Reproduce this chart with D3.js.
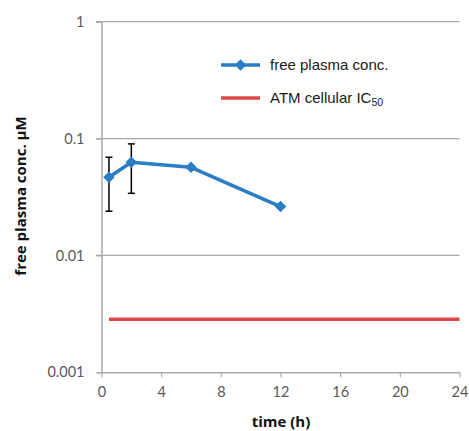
<!DOCTYPE html>
<html><head><meta charset="utf-8">
<script src="https://cdn.jsdelivr.net/npm/d3@7"></script>
<style>body{margin:0;background:#fff}svg{display:block}</style>
</head><body><div id="c"></div>
<script>
const times = [0.5, 2, 6, 12];
const conc = [0.0467, 0.0627, 0.0568, 0.0262];
const errLow = [0.0239, 0.034, null, null];
const errHigh = [0.0692, 0.090, null, null];
const ic50Times = [0.5, 24];
const ic50Value = 0.00285;
const xTicks = [0, 4, 8, 12, 16, 20, 24];
const yTicks = [0.001, 0.01, 0.1, 1];
const yTickLabels = ["0.001", "0.01", "0.1", "1"];
const legendLabels = ["free plasma conc.", "ATM cellular IC"];

const W = 469, H = 431;
const svg = d3.select("#c").append("svg").attr("width", W).attr("height", H);
const x = d3.scaleLinear().domain([0, 24]).range([101.5, 459.5]);
const y = d3.scaleLog().domain([0.001, 1]).range([372.3, 21.7]);
const blue = "#2a7dc4", red = "#dc4a47", grid = "#a9a9a9";

// gridlines
svg.append("g").selectAll("line").data(yTicks.slice(1)).join("line")
  .attr("x1", 96).attr("x2", x(24)).attr("y1", d => y(d)).attr("y2", d => y(d))
  .attr("stroke", grid).attr("stroke-width", 1.2);

// y axis
const yAxis = d3.axisLeft(y).tickValues(yTicks).tickFormat((d, i) => yTickLabels[i]).tickSize(5).tickPadding(12);
const gy = svg.append("g").attr("transform", `translate(${x(0)},0)`).call(yAxis);
gy.select(".domain").attr("stroke", grid).attr("stroke-width", 1.5);
gy.selectAll(".tick line").attr("stroke", grid).attr("stroke-width", 1.2);
gy.selectAll("text").attr("font-family", "Lato, sans-serif").attr("font-size", 14.5).attr("fill", "#595959");

// x axis
const xAxis = d3.axisBottom(x).tickValues(xTicks).tickSize(5).tickPadding(9).tickSizeOuter(0);
const gx = svg.append("g").attr("transform", `translate(0,${y(0.001)})`).call(xAxis);
gx.select(".domain").attr("stroke", grid).attr("stroke-width", 1.5);
gx.selectAll(".tick line").attr("stroke", grid).attr("stroke-width", 1.2);
gx.selectAll("text").attr("font-family", "Lato, sans-serif").attr("font-size", 14.5).attr("fill", "#595959");

// axis titles
svg.append("text").attr("x", 281).attr("y", 426.5).attr("text-anchor", "middle")
  .attr("font-family", "'Open Sans', sans-serif").attr("font-weight", "bold").attr("font-size", 15).attr("fill", "#111").text("time (h)");
svg.append("text").attr("transform", "translate(26,196) rotate(-90)").attr("text-anchor", "middle")
  .attr("font-family", "'Open Sans', sans-serif").attr("font-weight", "bold").attr("font-size", 15).attr("fill", "#111").text("free plasma conc. µM");

// IC50 line
svg.append("line").attr("x1", x(ic50Times[0])).attr("x2", x(ic50Times[1]))
  .attr("y1", y(ic50Value)).attr("y2", y(ic50Value)).attr("stroke", red).attr("stroke-width", 3.5);

// error bars
const eb = svg.append("g").attr("stroke", "#000").attr("stroke-width", 1.5);
times.forEach((t, i) => {
  if (errLow[i] == null) return;
  eb.append("line").attr("x1", x(t)).attr("x2", x(t)).attr("y1", y(errLow[i])).attr("y2", y(errHigh[i]));
  eb.append("line").attr("x1", x(t) - 3.5).attr("x2", x(t) + 3.5).attr("y1", y(errLow[i])).attr("y2", y(errLow[i]));
  eb.append("line").attr("x1", x(t) - 3.5).attr("x2", x(t) + 3.5).attr("y1", y(errHigh[i])).attr("y2", y(errHigh[i]));
});

// series line
const pts = times.map((t, i) => [t, conc[i]]);
svg.append("path").datum(pts).attr("fill", "none").attr("stroke", blue).attr("stroke-width", 3.5)
  .attr("stroke-linejoin", "round").attr("d", d3.line().x(d => x(d[0])).y(d => y(d[1])));
const diamond = d3.symbol().type(d3.symbolDiamond2).size(85);
svg.append("g").selectAll("path").data(pts).join("path")
  .attr("transform", d => `translate(${x(d[0])},${y(d[1])})`).attr("d", diamond).attr("fill", blue);

// legend
const lg = svg.append("g");
lg.append("line").attr("x1", 221).attr("x2", 260).attr("y1", 65).attr("y2", 65).attr("stroke", blue).attr("stroke-width", 3.5);
lg.append("path").attr("transform", "translate(240.5,65)").attr("d", diamond).attr("fill", blue);
lg.append("line").attr("x1", 221).attr("x2", 260).attr("y1", 98).attr("y2", 98).attr("stroke", red).attr("stroke-width", 3.5);
lg.append("text").attr("x", 270).attr("y", 70).attr("font-family", "'Liberation Sans', Arial, sans-serif").attr("font-size", 15).attr("fill", "#1a1a1a").text(legendLabels[0]);
const t2 = lg.append("text").attr("x", 270).attr("y", 103).attr("font-family", "'Liberation Sans', Arial, sans-serif").attr("font-size", 15).attr("fill", "#1a1a1a");
t2.append("tspan").text(legendLabels[1]);
t2.append("tspan").attr("font-size", 10.5).attr("dy", 3).text("50");
</script></body></html>
